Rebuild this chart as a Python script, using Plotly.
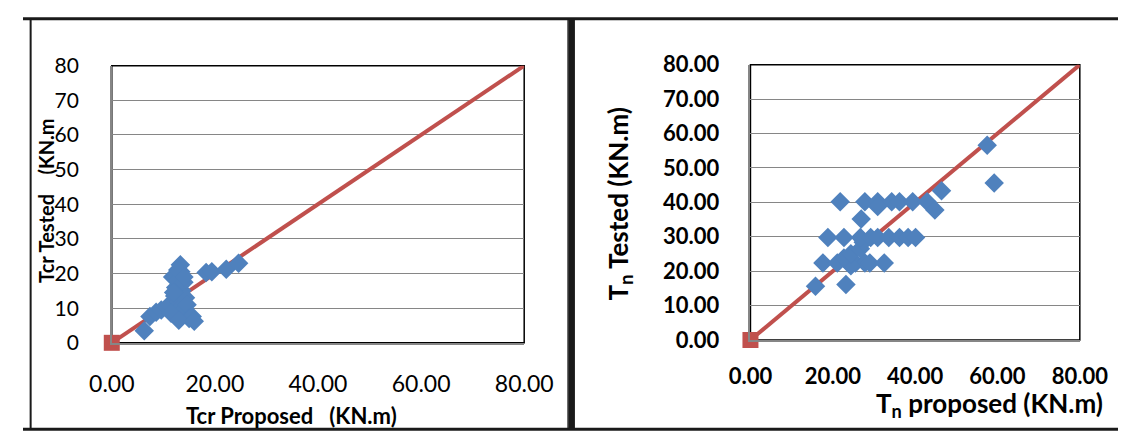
import plotly.graph_objects as go

# Cracking torque: proposed vs tested (kN.m)
tcr_proposed = [6.3, 7.4, 8.6, 9.6, 10.6, 11.2, 11.8, 12.2, 12.4, 12.6, 12.8, 13.0,
                13.2, 13.4, 13.6, 13.8, 14.0, 14.3, 14.6, 15.0, 15.6, 12.0, 13.3,
                12.8, 14.0, 18.3, 19.4, 22.2, 24.6, 11.5, 13.0, 16.0]
tcr_tested = [3.5, 7.6, 8.8, 9.5, 10.2, 11.0, 19.0, 13.5, 16.0, 8.8, 18.0, 12.0,
              10.0, 20.5, 15.0, 9.5, 17.5, 13.0, 11.0, 7.0, 7.6, 14.5, 22.5,
              21.0, 19.0, 20.3, 20.5, 21.2, 23.0, 8.5, 6.5, 6.2]

# Ultimate torque: proposed vs tested (kN.m)
tn_proposed = [15.8, 23.2, 17.6, 21.1, 23.9, 25.5, 27.8, 29.0, 32.5, 24.4, 22.7, 24.4,
               26.7, 27.4, 18.8, 22.7, 26.7, 29.2, 30.9, 33.6, 36.2, 38.3, 40.1, 26.9,
               21.8, 27.8, 30.9, 34.3, 36.2, 39.4, 42.9, 30.9, 44.8, 46.4, 57.5, 59.2]
tn_tested = [15.6, 16.1, 22.4, 22.4, 22.4, 22.4, 22.4, 22.4, 22.4, 21.6, 23.8, 25.1,
             26.5, 28.4, 29.8, 29.8, 29.8, 29.8, 29.8, 29.8, 29.8, 29.8, 29.8, 35.2,
             40.2, 40.2, 40.2, 40.2, 40.2, 40.2, 40.2, 38.8, 37.8, 43.4, 56.6, 45.6]

# Line of equality
equal_x = [0, 80]
equal_y = [0, 80]

tick_vals = [0, 10, 20, 30, 40, 50, 60, 70, 80]
x_tick_vals = [0, 20, 40, 60, 80]

BLUE = "#4F81BD"
RED = "#C0504D"
FONT = "Lato"
W, H = 1147, 446

fig = go.Figure()

for xa, ya, px, py in [("x", "y", tcr_proposed, tcr_tested),
                       ("x2", "y2", tn_proposed, tn_tested)]:
    fig.add_trace(go.Scatter(x=equal_x, y=equal_y, mode="lines",
                             line=dict(color=RED, width=4), xaxis=xa, yaxis=ya,
                             cliponaxis=False, showlegend=False, hoverinfo="skip"))
    fig.add_trace(go.Scatter(x=px, y=py, mode="markers",
                             marker=dict(symbol="diamond", size=15, color=BLUE,
                                         line=dict(width=0)),
                             xaxis=xa, yaxis=ya, cliponaxis=False, showlegend=False))
    fig.add_trace(go.Scatter(x=[equal_x[0]], y=[equal_y[0]], mode="markers",
                             marker=dict(symbol="square", size=16, color=RED,
                                         line=dict(width=0)),
                             xaxis=xa, yaxis=ya, cliponaxis=False, showlegend=False))


def px_x(p):
    return p / W


def px_y(p):
    return 1 - p / H


common_y = dict(range=[0, 80], tickvals=tick_vals, showgrid=True, gridcolor="#868686",
                gridwidth=1, zeroline=False, showline=True, linecolor="#868686",
                linewidth=1.5, ticks="", fixedrange=True)
common_x = dict(range=[0, 80], tickvals=x_tick_vals, tickformat=".2f", showgrid=False,
                zeroline=False, showline=True, linecolor="#868686", linewidth=1.5,
                ticks="", fixedrange=True)

fig.update_layout(
    width=W, height=H,
    margin=dict(l=0, r=0, t=0, b=0),
    paper_bgcolor="white", plot_bgcolor="white",
    xaxis=dict(common_x, domain=[px_x(93), px_x(525)], anchor="y",
               tickfont=dict(family=FONT, size=23, color="black"),
               ticklabelstandoff=20),
    yaxis=dict(common_y, domain=[px_y(350), px_y(55)], anchor="x",
               tickfont=dict(family=FONT, size=21, color="black"),
               ticklabelstandoff=27),
    xaxis2=dict(common_x, domain=[px_x(762), px_x(1107)], anchor="y2",
                tickfont=dict(family=FONT, size=22, color="black", weight="bold"),
                ticklabelstandoff=16),
    yaxis2=dict(common_y, domain=[px_y(347), px_y(54)], anchor="x2",
                tickformat=".2f",
                tickfont=dict(family=FONT, size=22, color="black", weight="bold"),
                ticklabelstandoff=25),
)

# Plot-area borders and panel frames
shapes = [
    dict(type="rect", xref="x domain", yref="y domain", x0=0, x1=1, y0=0, y1=1,
         line=dict(color="black", width=1.5), layer="below"),
    dict(type="rect", xref="x2 domain", yref="y2 domain", x0=0, x1=1, y0=0, y1=1,
         line=dict(color="black", width=1.5), layer="below"),
    dict(type="line", xref="paper", yref="paper", x0=0, x1=1,
         y0=px_y(5), y1=px_y(5), line=dict(color="#1a1a1a", width=3)),
    dict(type="line", xref="paper", yref="paper", x0=0, x1=1,
         y0=px_y(442), y1=px_y(442), line=dict(color="#1a1a1a", width=3)),
    dict(type="line", xref="paper", yref="paper", x0=px_x(8), x1=px_x(8),
         y0=px_y(5), y1=px_y(442), line=dict(color="#1a1a1a", width=2)),
    dict(type="line", xref="paper", yref="paper", x0=px_x(571), x1=px_x(571),
         y0=px_y(5), y1=px_y(442), line=dict(color="#1a1a1a", width=1.5)),
    dict(type="line", xref="paper", yref="paper", x0=px_x(575), x1=px_x(575),
         y0=px_y(5), y1=px_y(442), line=dict(color="#1a1a1a", width=6)),
]
fig.update_layout(shapes=shapes)

annotations = [
    dict(text="Tcr Proposed   (KN.m)", x=px_x(281), y=px_y(427), xref="paper",
         yref="paper", showarrow=False,
         font=dict(family=FONT, size=22, color="black", weight="bold"),
         xanchor="center", yanchor="middle"),
    dict(text="Tcr Tested    (KN.m", x=px_x(24), y=px_y(198), xref="paper",
         yref="paper", showarrow=False, textangle=-90,
         font=dict(family=FONT, size=20, color="black", weight="bold"),
         xanchor="center", yanchor="middle"),
    dict(text="T<sub>n</sub> proposed (KN.m)", x=px_x(1133), y=px_y(416), xref="paper",
         yref="paper", showarrow=False,
         font=dict(family=FONT, size=26, color="black", weight="bold"),
         xanchor="right", yanchor="middle"),
    dict(text="T<sub>n</sub> Tested (KN.m)", x=px_x(625), y=px_y(202), xref="paper",
         yref="paper", showarrow=False, textangle=-90,
         font=dict(family=FONT, size=26, color="black", weight="bold"),
         xanchor="center", yanchor="middle"),
]
fig.update_layout(annotations=annotations)

fig.write_html("out.html")
